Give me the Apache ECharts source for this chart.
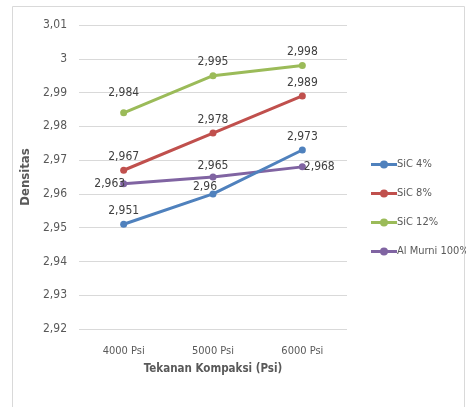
<!DOCTYPE html>
<html>
<head>
<meta charset="utf-8">
<script src="https://cdn.jsdelivr.net/npm/echarts@6/dist/echarts.min.js"></script>
<style>
  html, body { margin: 0; padding: 0; background: #fff; }
  #chart { width: 466px; height: 407px; }
</style>
</head>
<body>
<div id="chart"></div>
<script>
const categories = ['4000 Psi', '5000 Psi', '6000 Psi']
const sic4 = [2.951, 2.960, 2.973]
const sic8 = [2.967, 2.978, 2.989]
const sic12 = [2.984, 2.995, 2.998]
const alMurni = [2.963, 2.965, 2.968]
const seriesNames = ['SiC 4%', 'SiC 8%', 'SiC 12%', 'Al Murni 100%']
const colors = ['#4f81bd', '#c0504d', '#9bbb59', '#8064a2']

const font = '"DejaVu Sans Condensed", "Liberation Sans Narrow", "Liberation Sans", sans-serif'
const fmt = v => String(+v.toFixed(3)).replace('.', ',')

// per-point label placement, like the Excel chart
const labelPos = [
  [{ position: 'top' }, { position: 'top', offset: [-8, 6] }, { position: 'top' }],
  [{ position: 'top' }, { position: 'top' }, { position: 'top' }],
  [{ position: 'top', distance: 10 }, { position: 'top' }, { position: 'top' }],
  [{ position: 'left', distance: -5 }, { position: 'top', distance: 2 }, { position: 'right', distance: -2 }]
]

const makeSeries = (name, values, i) => ({
  name,
  type: 'line',
  data: values.map((v, j) => ({ value: v, label: labelPos[i][j] })),
  symbol: 'circle',
  symbolSize: 7,
  lineStyle: { width: 3, color: colors[i] },
  itemStyle: { color: colors[i] },
  label: {
    show: true, color: '#404040', fontFamily: font, fontSize: 12, distance: 4,
    formatter: p => fmt(p.value)
  },
  emphasis: { disabled: true },
  z: 10 - i
})

const chart = echarts.init(document.getElementById('chart'))
chart.setOption({
  animation: false,
  graphic: [{
    type: 'rect', shape: { x: 12.5, y: 6.5, width: 452, height: 420 },
    style: { fill: 'none', stroke: '#d9d9d9', lineWidth: 1 }, silent: true
  }],
  legend: {
    orient: 'vertical', left: 366, top: 154,
    itemWidth: 26, itemHeight: 8, itemGap: 18,
    icon: 'path://M0,2.6 L26,2.6 L26,5.4 L0,5.4 Z M17,4 A4,4 0 1 1 9,4 A4,4 0 1 1 17,4 Z',
    data: seriesNames.map((n, i) => ({ name: n, itemStyle: { color: colors[i] } })),
    textStyle: { color: '#595959', fontFamily: font, fontSize: 11, padding: [0, 0, 0, -5] }
  },
  grid: { left: 79, right: 119, top: 25, bottom: 78 },
  xAxis: {
    type: 'category', data: categories,
    name: 'Tekanan Kompaksi (Psi)', nameLocation: 'middle', nameGap: 34,
    nameTextStyle: { color: '#595959', fontFamily: font, fontSize: 11.5, fontWeight: 'bold' },
    axisLine: { show: false }, axisTick: { show: false },
    axisLabel: { color: '#595959', fontFamily: font, fontSize: 11, margin: 17 }
  },
  yAxis: {
    type: 'value', min: 2.92, max: 3.01, interval: 0.01,
    name: 'Densitas', nameLocation: 'middle', nameGap: 43,
    nameTextStyle: { color: '#595959', fontFamily: font, fontSize: 13, fontWeight: 'bold' },
    axisLine: { show: false }, axisTick: { show: false },
    axisLabel: { color: '#595959', fontFamily: font, fontSize: 12, margin: 12, formatter: v => fmt(v) },
    splitLine: { lineStyle: { color: '#d9d9d9' } }
  },
  series: [
    makeSeries(seriesNames[0], sic4, 0),
    makeSeries(seriesNames[1], sic8, 1),
    makeSeries(seriesNames[2], sic12, 2),
    makeSeries(seriesNames[3], alMurni, 3)
  ]
})
</script>
</body>
</html>
